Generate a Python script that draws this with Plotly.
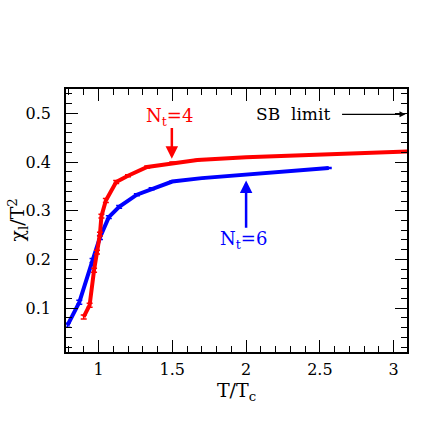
import plotly.graph_objects as go

# N_t = 4 (red)
t4 = [0.90, 0.94, 0.97, 0.99, 1.01, 1.02, 1.05, 1.12, 1.20, 1.33, 1.50, 1.67, 2.00, 2.50, 3.10]
chi4 = [0.082, 0.106, 0.178, 0.215, 0.252, 0.289, 0.321, 0.359, 0.372, 0.390, 0.398, 0.404, 0.410, 0.416, 0.422]
err4 = [0.004, 0.004, 0.004, 0.004, 0.004, 0.004, 0.004, 0.003, 0.002, 0.002, 0.002, 0.001, 0.001, 0.001, 0.001]

# N_t = 6 (blue)
t6 = [0.79, 0.87, 0.96, 1.01, 1.07, 1.14, 1.26, 1.36, 1.50, 1.70, 2.00, 2.56]
chi6 = [0.065, 0.112, 0.198, 0.245, 0.287, 0.308, 0.333, 0.345, 0.360, 0.367, 0.375, 0.388]
err6 = [0.004, 0.004, 0.004, 0.004, 0.003, 0.003, 0.002, 0.002, 0.001, 0.001, 0.001, 0.001]

xticks = [1, 1.5, 2, 2.5, 3]
yticks = [0.1, 0.2, 0.3, 0.4, 0.5]

FONT = "DejaVu Serif"

fig = go.Figure()
fig.add_trace(go.Scatter(
    x=t6, y=chi6, mode="lines",
    line=dict(color="#0000ff", width=4),
    error_y=dict(type="data", array=err6, color="#0000ff", thickness=1.5, width=3),
    showlegend=False))
fig.add_trace(go.Scatter(
    x=t4, y=chi4, mode="lines",
    line=dict(color="#ff0000", width=4),
    error_y=dict(type="data", array=err4, color="#ff0000", thickness=1.5, width=3),
    showlegend=False))

axis_common = dict(
    showgrid=False, zeroline=False, showline=True, linecolor="black", linewidth=1.5,
    mirror="ticks", ticks="inside", ticklen=12, tickwidth=1.2, tickcolor="black",
    tickfont=dict(family=FONT, size=16, color="black"), automargin=False,
)

fig.update_xaxes(
    range=[0.78, 3.09], tickvals=xticks, ticktext=[str(v) for v in xticks],
    minor=dict(dtick=0.1, tick0=0, ticks="inside", ticklen=6, tickwidth=1, tickcolor="black"),
    ticklabelstandoff=2,
    title=dict(text="T/T<sub>c</sub>", font=dict(family=FONT, size=19, color="black"), standoff=4),
    **axis_common)
fig.update_yaxes(
    range=[0.01, 0.55], tickvals=yticks, ticktext=[str(v) for v in yticks],
    minor=dict(dtick=0.02, tick0=0, ticks="inside", ticklen=6, tickwidth=1, tickcolor="black"),
    ticklabelstandoff=10,
    **axis_common)

# y-axis title as a rotated annotation
fig.add_annotation(x=0, y=0.5, xref="paper", yref="paper", xanchor="center", yanchor="middle",
                   xshift=-48, textangle=-90,
                   text="χ<sub>l</sub>/T<sup>2</sup>", showarrow=False,
                   font=dict(family=FONT, size=19, color="black"))

# Annotations
fig.add_annotation(x=1.48, y=0.492, xref="x", yref="y", text="N<sub>t</sub>=4", showarrow=False,
                   font=dict(family=FONT, size=18, color="#ff0000"))
fig.add_annotation(x=1.497, y=0.407, ax=1.497, ay=0.473, xref="x", yref="y", axref="x", ayref="y",
                   text="", showarrow=True, arrowhead=2, arrowsize=1, arrowwidth=2.5, arrowcolor="#ff0000")
fig.add_annotation(x=1.98, y=0.239, xref="x", yref="y", text="N<sub>t</sub>=6", showarrow=False,
                   font=dict(family=FONT, size=18, color="#0000ff"))
fig.add_annotation(x=2.0, y=0.362, ax=2.0, ay=0.262, xref="x", yref="y", axref="x", ayref="y",
                   text="", showarrow=True, arrowhead=2, arrowsize=1, arrowwidth=2.5, arrowcolor="#0000ff")
fig.add_annotation(x=2.32, y=0.498, xref="x", yref="y", text="SB  limit", showarrow=False,
                   font=dict(family=FONT, size=17, color="black"))
fig.add_annotation(x=3.08, y=0.498, ax=2.64, ay=0.498, xref="x", yref="y", axref="x", ayref="y",
                   text="", showarrow=True, arrowhead=2, arrowsize=1, arrowwidth=1.2, arrowcolor="black")

fig.update_layout(
    width=431, height=431,
    margin=dict(l=66, r=24, t=89, b=79),
    plot_bgcolor="white", paper_bgcolor="white",
)

# remove the default 8px page margin so the figure fills the window exactly; hide the mode bar
fig.write_html("out.html", config={"displayModeBar": False},
               post_script="document.body.style.margin='0';")
